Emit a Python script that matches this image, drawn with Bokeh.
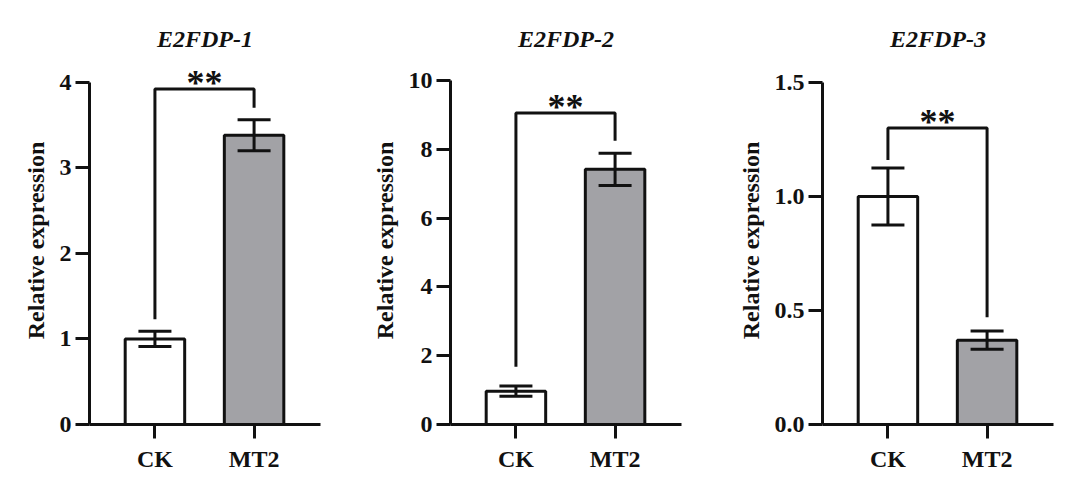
import numpy as np
from bokeh.plotting import figure
from bokeh.layouts import row
from bokeh.models import (ColumnDataSource, Whisker, TeeHead, FixedTicker,
                          Range1d, NumeralTickFormatter)
from bokeh.core.properties import value
from bokeh.embed import file_html
from bokeh.resources import INLINE

# ---------------- data ----------------
categories = ["CK", "MT2"]
genes = ["E2FDP-1", "E2FDP-2", "E2FDP-3"]

means_1 = [1.00, 3.38]
errs_1 = [0.09, 0.18]
means_2 = [0.97, 7.42]
errs_2 = [0.15, 0.47]
means_3 = [1.00, 0.37]
errs_3 = [0.125, 0.04]

bracket_top = [3.92, 9.06, 1.30]
bracket_left_end = [1.23, 1.68, 1.16]
bracket_right_end = [3.70, 8.25, 0.47]
significance = ["**", "**", "**"]

yticks_1 = [0, 1, 2, 3, 4]
yticks_2 = [0, 2, 4, 6, 8, 10]
yticks_3 = [0.0, 0.5, 1.0, 1.5]

# ---------------- style ----------------
FONT = "Liberation Serif"
INK = "#111111"
GREY = "#a2a2a6"
bar_colors = ["white", GREY]

panels = [
    (genes[0], means_1, errs_1, yticks_1, "0", 4.30, 89, 40, 0, 1.5),
    (genes[1], means_2, errs_2, yticks_2, "0", 10.70, 90, 39, 1, 1.5),
    (genes[2], means_3, errs_3, yticks_3, "0.0", 1.614, 102, 12, 2, 1.0),
]

figs = []
for gene, means, errs, yt, fmt, ytop, mbl, mbr, k, tlh in panels:
    xs = list(range(len(categories)))
    p = figure(frame_width=231, frame_height=368,
               x_range=Range1d(-0.66, 1.67), y_range=Range1d(0, ytop),
               output_backend="svg", toolbar_location=None,
               min_border_left=mbl, min_border_right=mbr,
               min_border_top=56, min_border_bottom=50)
    p.outline_line_color = None
    p.grid.visible = False
    p.background_fill_color = "white"

    p.title.text = gene
    p.title.align = "center"
    p.title.text_font = FONT
    p.title.text_font_style = "bold italic"
    p.title.text_font_size = "24px"
    p.title.text_color = INK
    p.title.text_line_height = tlh

    src = ColumnDataSource(dict(
        x=xs, top=means, color=bar_colors,
        upper=[m + e for m, e in zip(means, errs)],
        lower=[m - e for m, e in zip(means, errs)],
    ))
    p.vbar(x="x", top="top", bottom=0, width=0.6, source=src,
           fill_color="color", line_color=INK, line_width=3)

    wh = Whisker(base="x", upper="upper", lower="lower", source=src,
                 line_color=INK, line_width=3, level="annotation",
                 upper_head=TeeHead(size=33, line_color=INK, line_width=3),
                 lower_head=TeeHead(size=33, line_color=INK, line_width=3))
    p.add_layout(wh)

    p.line(x=[xs[0], xs[0], xs[1], xs[1]],
           y=[bracket_left_end[k], bracket_top[k], bracket_top[k], bracket_right_end[k]],
           line_color=INK, line_width=3)
    p.text(x=[(xs[0] + xs[1]) / 2], y=[bracket_top[k]], text=[significance[k]],
           text_font=value(FONT), text_font_style="bold", text_font_size="36px",
           text_align="center", text_baseline="alphabetic", text_color=INK,
           y_offset=-6)

    # axes
    for ax in (p.xaxis[0], p.yaxis[0]):
        ax.axis_line_width = 3
        ax.axis_line_color = INK
        ax.major_tick_line_width = 3
        ax.major_tick_line_color = INK
        ax.major_tick_in = 0
        ax.major_tick_out = 14
        ax.minor_tick_line_color = None
        ax.major_label_text_font = FONT
        ax.major_label_text_font_style = "bold"
        ax.major_label_text_font_size = "24px"
        ax.major_label_text_color = INK

    p.xaxis.ticker = FixedTicker(ticks=xs)
    p.xaxis.major_label_overrides = {i: c for i, c in enumerate(categories)}
    p.xaxis.major_label_standoff = 7

    p.yaxis.ticker = FixedTicker(ticks=yt)
    p.yaxis.formatter = NumeralTickFormatter(format=fmt)
    p.yaxis.bounds = (yt[0], yt[-1])
    p.yaxis.major_label_standoff = 4
    p.yaxis.axis_label = "Relative expression"
    p.yaxis.axis_label_text_font = FONT
    p.yaxis.axis_label_text_font_style = "bold"
    p.yaxis.axis_label_text_font_size = "24px"
    p.yaxis.axis_label_text_color = INK
    p.yaxis.axis_label_standoff = 8

    figs.append(p)

layout = row(*figs)
open("out.html", "w").write(file_html(layout, INLINE))
